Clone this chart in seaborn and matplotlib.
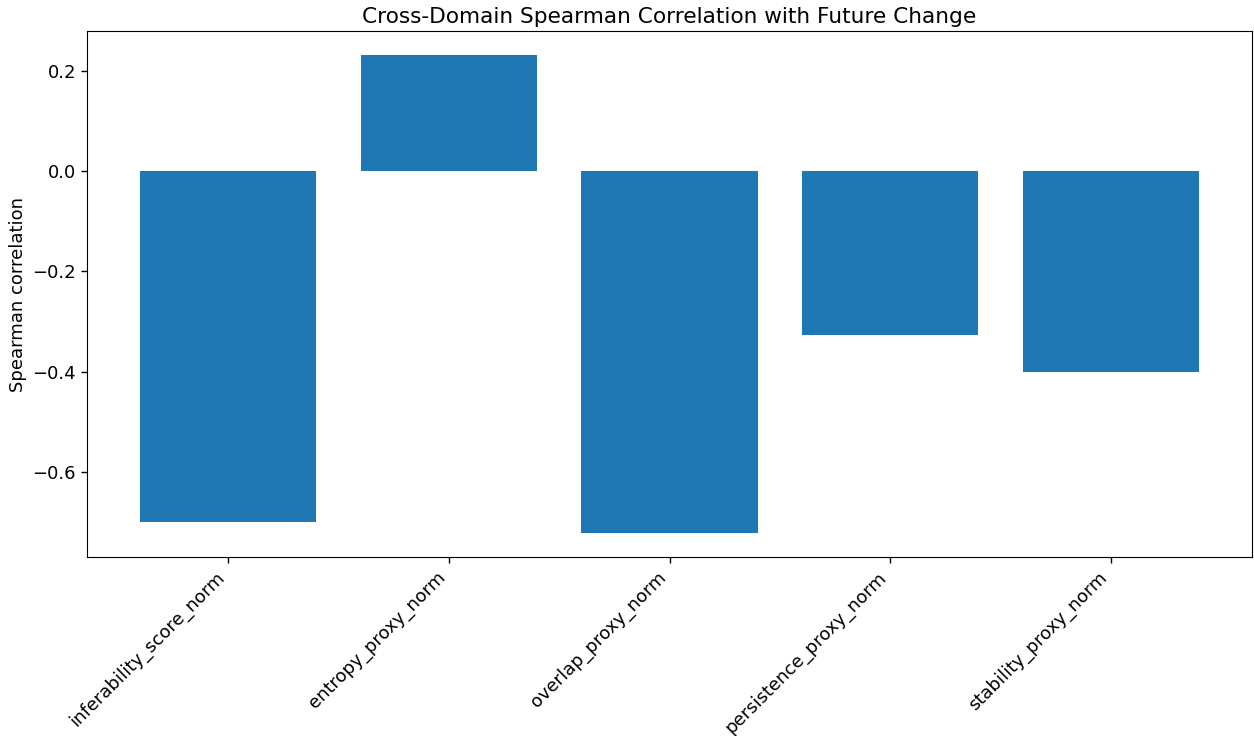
import numpy as np
import matplotlib
matplotlib.use("Agg")
import matplotlib.pyplot as plt
import seaborn as sns
import pandas as pd

### data
features = ["inferability_score_norm", "entropy_proxy_norm", "overlap_proxy_norm",
            "persistence_proxy_norm", "stability_proxy_norm"]
spearman = [-0.700, 0.232, -0.722, -0.326, -0.400]

df = pd.DataFrame({"feature": features, "rho": spearman})

fs = 13
fig = plt.figure(figsize=(12.54, 7.36), dpi=100)
ax = fig.add_subplot(111)
sns.barplot(data=df, x="feature", y="rho", color="#1f77b4", saturation=1,
            width=0.8, ax=ax)
ax.set_title("Cross-Domain Spearman Correlation with Future Change", fontsize=fs * 1.2)
ax.set_xlabel("")
ax.set_ylabel("Spearman correlation", fontsize=fs)
ax.margins(x=0.05, y=0.05)
ax.set_xlim(-0.4 - 0.05 * 4.8, 4.4 + 0.05 * 4.8)
plt.xticks(rotation=45, ha="right", fontsize=fs)
plt.yticks(fontsize=fs)
ax.tick_params(length=4.5, width=1)
plt.subplots_adjust(left=87 / 1254, right=1252 / 1254, top=1 - 31 / 736, bottom=1 - 557 / 736)
plt.savefig("out.png", dpi=100)
